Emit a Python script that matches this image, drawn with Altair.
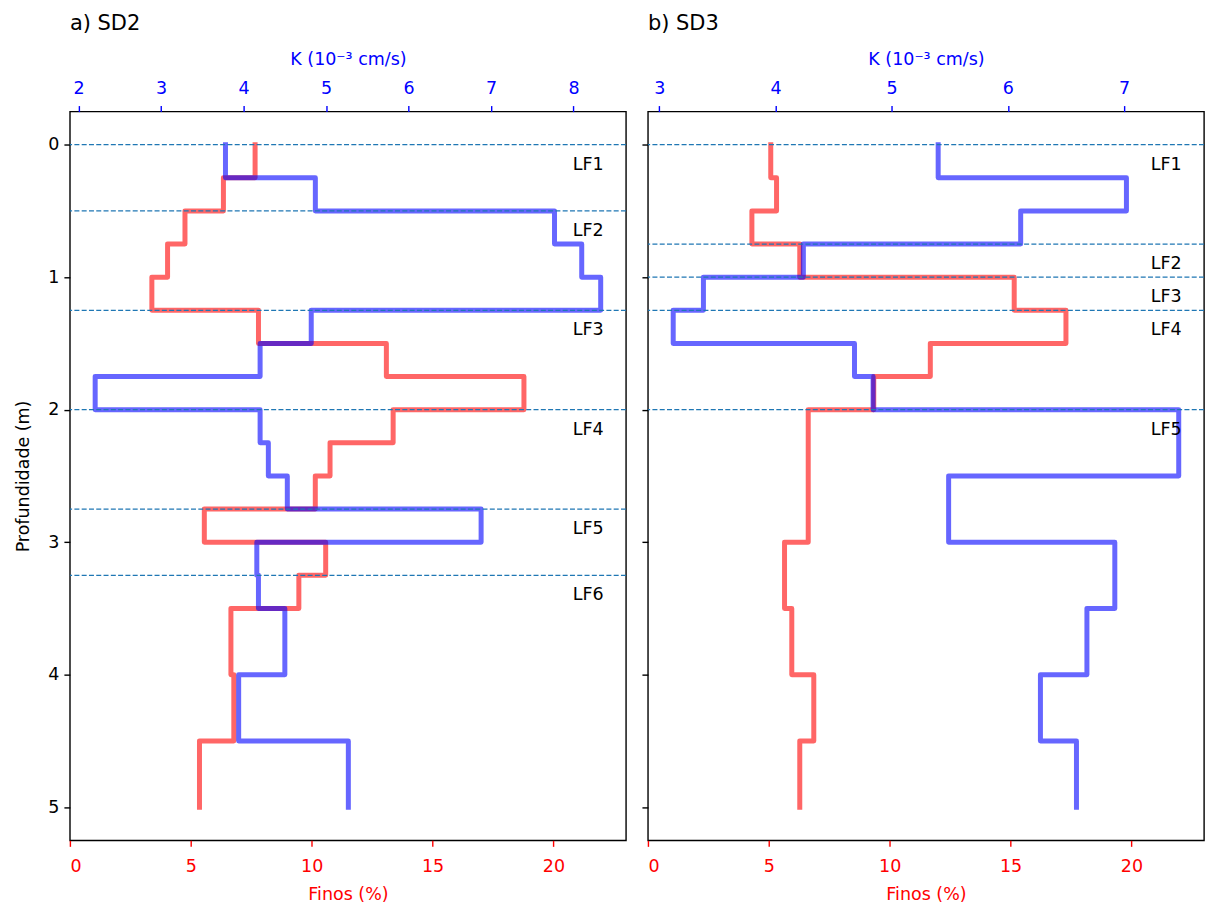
import altair as alt
import pandas as pd

# ---------------- data ----------------
# SD2: top depth of each layer (m); each layer ends where the next begins, last ends at 5 m
sd2_top = [0.0, 0.25, 0.5, 0.75, 1.0, 1.25, 1.5, 1.75, 2.0, 2.25, 2.5, 2.75, 3.0, 3.25, 3.5, 4.0, 4.5]
sd2_finos = [7.66, 6.35, 4.76, 4.04, 3.39, 7.80, 13.09, 18.78, 13.37, 10.76, 10.15, 5.56, 10.58, 9.47, 6.66, 6.78, 5.36]
sd2_k = [3.78, 4.87, 7.77, 8.10, 8.33, 4.82, 4.20, 2.20, 4.20, 4.30, 4.53, 6.88, 4.16, 4.18, 4.50, 3.94, 5.27]
sd2_lf_depth = [0.0, 0.5, 1.25, 2.0, 2.75, 3.25]
sd2_lf_name = ["LF1", "LF2", "LF3", "LF4", "LF5", "LF6"]

# SD3
sd3_top = [0.0, 0.25, 0.5, 0.75, 1.0, 1.25, 1.5, 1.75, 2.0, 2.5, 3.0, 3.5, 4.0, 4.5]
sd3_finos = [5.08, 5.32, 4.30, 6.28, 15.15, 17.29, 11.68, 9.34, 6.63, 6.63, 5.65, 5.95, 6.86, 6.28]
sd3_k = [5.40, 7.02, 6.11, 4.24, 3.38, 3.12, 4.68, 4.84, 7.47, 5.49, 6.92, 6.68, 6.28, 6.59]
sd3_lf_depth = [0.0, 0.75, 1.0, 1.25, 2.0]
sd3_lf_name = ["LF1", "LF2", "LF3", "LF4", "LF5"]

depth_ticks = [0, 1, 2, 3, 4, 5]
finos_ticks = [0, 5, 10, 15, 20]
sd2_k_ticks = [2, 3, 4, 5, 6, 7, 8]
sd3_k_ticks = [3, 4, 5, 6, 7]
BOTTOM = 5.0

FONT = "DejaVu Sans"
W, H = 557, 730
Y_DOM = [-0.25, 5.25]
FINOS_DOM = [0, 23]


def k_domain(vals):
    lo, hi = min(vals), max(vals)
    m = 0.05 * (hi - lo)
    return [lo - m, hi + m]


def steps(tops, vals):
    bots = tops[1:] + [BOTTOM]
    rows = []
    for i, (t, b, v) in enumerate(zip(tops, bots, vals)):
        rows.append({"v": v, "d": t, "o": 2 * i})
        rows.append({"v": v, "d": b, "o": 2 * i + 1})
    return pd.DataFrame(rows)


def panel(title, tops, finos, kvals, kticks, lf_depth, lf_name, show_y):
    yscale = alt.Scale(domain=Y_DOM, reverse=True, nice=False, zero=False)
    if show_y:
        yaxis = alt.Axis(values=depth_ticks, title="Profundidade (m)", format="d",
                         titlePadding=15)
    else:
        yaxis = alt.Axis(values=depth_ticks, labels=False, title=None)

    red = alt.Chart(steps(tops, finos)).mark_line(
        color="red", opacity=0.6, strokeWidth=5, strokeCap="square", strokeJoin="round"
    ).encode(
        x=alt.X("v:Q", scale=alt.Scale(domain=FINOS_DOM, nice=False, zero=False),
                axis=alt.Axis(values=finos_ticks, format="d", title="Finos (%)", orient="bottom",
                              labelColor="red", tickColor="red", titleColor="red",
                              labelPadding=11, titlePadding=11)),
        y=alt.Y("d:Q", scale=yscale, axis=yaxis),
        order="o:Q",
    )

    blue = alt.Chart(steps(tops, kvals)).mark_line(
        color="blue", opacity=0.6, strokeWidth=5, strokeCap="square", strokeJoin="round"
    ).encode(
        x=alt.X("v:Q", scale=alt.Scale(domain=k_domain(kvals), nice=False, zero=False),
                axis=alt.Axis(values=kticks, format="d", title="K (10⁻³ cm/s)", orient="top",
                              labelColor="blue", tickColor="blue", titleColor="blue",
                              labelPadding=8, titlePadding=11)),
        y=alt.Y("d:Q", scale=yscale, axis=yaxis),
        order="o:Q",
    )

    rules = alt.Chart(pd.DataFrame({"d": lf_depth})).mark_rule(
        color="#1f77b4", strokeWidth=1.3, strokeDash=[5, 2.3]
    ).encode(y=alt.Y("d:Q", scale=yscale, axis=yaxis))

    lf = pd.DataFrame({"x": [20.8] * len(lf_name),
                       "d": [d + 0.15 for d in lf_depth],
                       "t": lf_name})
    text = alt.Chart(lf).mark_text(
        align="left", baseline="middle", fontSize=17.5, font=FONT, color="black"
    ).encode(
        x=alt.X("x:Q", scale=alt.Scale(domain=FINOS_DOM, nice=False, zero=False), axis=None),
        y=alt.Y("d:Q", scale=yscale, axis=yaxis),
        text="t:N",
    )

    return alt.layer(red, blue, rules, text).resolve_scale(x="independent").properties(
        width=W, height=H,
        title=alt.TitleParams(title, anchor="start", frame="group", fontSize=21,
                              fontWeight="normal", font=FONT, color="black", offset=17),
    )


left = panel("a) SD2", sd2_top, sd2_finos, sd2_k, sd2_k_ticks, sd2_lf_depth, sd2_lf_name, True)
right = panel("b) SD3", sd3_top, sd3_finos, sd3_k, sd3_k_ticks, sd3_lf_depth, sd3_lf_name, False)

chart = alt.hconcat(left, right, spacing=12).properties(
    padding={"left": 6, "top": 3, "right": 0, "bottom": 0}
).configure_view(
    stroke="black", strokeWidth=1.4
).configure_axis(
    grid=False, domain=False, labelFont=FONT, titleFont=FONT, labelFontSize=17.5,
    titleFontSize=17.5, titleFontWeight="normal", tickSize=6, tickWidth=1.4,
    labelPadding=5, tickColor="black", labelColor="black", titleColor="black",
)

chart.save("out.html", embed_options={"renderer": "svg", "actions": False})
